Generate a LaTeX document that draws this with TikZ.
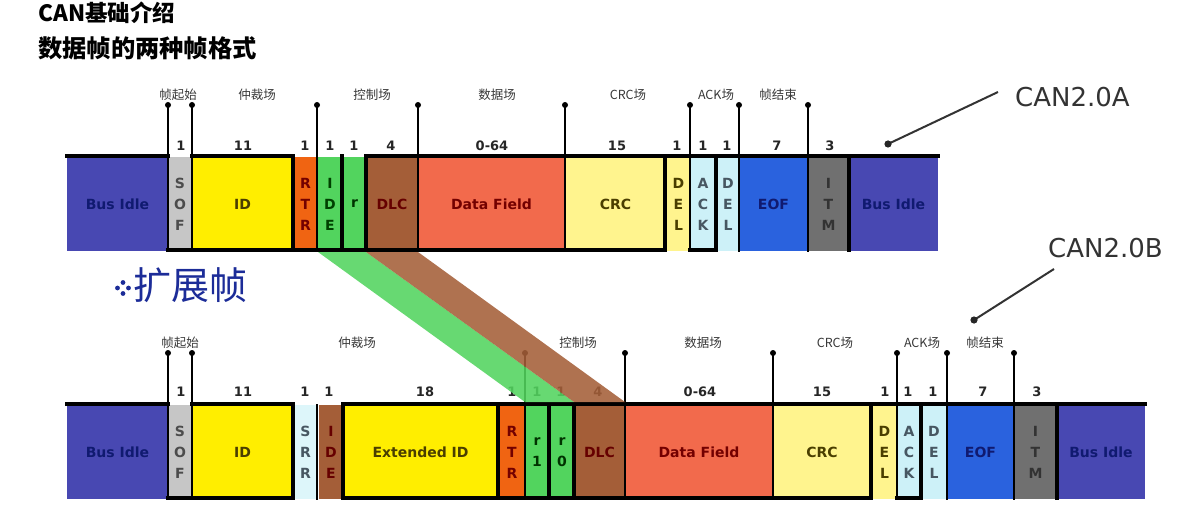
\documentclass[tikz,border=0pt]{standalone}
\usepackage{fontspec}
\newfontfamily\dv{DejaVu Sans}
\newfontfamily\cjk{Noto Sans CJK SC}
\definecolor{busc}{HTML}{4848B2}
\definecolor{sofc}{HTML}{C6C6C6}
\definecolor{idc}{HTML}{FFEE00}
\definecolor{rtrc}{HTML}{F06412}
\definecolor{grc}{HTML}{52D45E}
\definecolor{dlcc}{HTML}{A45E38}
\definecolor{datac}{HTML}{F26A4C}
\definecolor{crcc}{HTML}{FFF48E}
\definecolor{ackc}{HTML}{CDF1F8}
\definecolor{eofc}{HTML}{2A62DE}
\definecolor{itmc}{HTML}{707070}
\definecolor{srrc}{HTML}{DDF6FA}
\definecolor{navy}{HTML}{101A70}
\definecolor{olive}{HTML}{4A3E00}
\definecolor{ttlblue}{HTML}{1C2C98}
\tikzset{
  fbox/.style={draw=none, inner sep=0pt, minimum height=94pt, align=center,
    font=\dv\bfseries\fontsize{14}{20}\selectfont},
  vbox/.style={fbox, font=\dv\bfseries\fontsize{14}{21}\selectfont},
  wave/.style={line width=4pt, line cap=rect, line join=miter},
  tickl/.style={line width=2.6pt},
  midl/.style={line width=1.8pt},
  num/.style={font=\dv\bfseries\fontsize{13}{13}\selectfont, text=black!85, inner sep=0pt},
  cn/.style={font=\cjk\fontsize{12.5}{13}\selectfont, text=black!78, inner sep=0pt},
  canlbl/.style={font=\dv\fontsize{26}{28}\selectfont, text=black!80, inner sep=0pt},
}
% name, x1, x2, ycenter, fill, text colour, style, text
\newcommand\fld[8]{\node[#7, fill=#5, text=#6, minimum width={(#3-#2)*1pt}] (#1) at ({(#2+#3)/2},#4) {#8};}
\newcommand\tk[3]{\draw[tickl] (#1,#2) -- (#1,#3); \fill (#1,#2) circle (3pt);}
\begin{document}
\begin{tikzpicture}[x=1pt,y=-1pt]
\useasboundingbox (0,0) rectangle (1203,532);
% titles
\node[anchor=west, inner sep=0pt, font=\cjk\bfseries\fontsize{22.5}{23}\selectfont] (t1) at (38,13) {CAN基础介绍};
\node[anchor=west, inner sep=0pt, font=\cjk\bfseries\fontsize{24.3}{25}\selectfont] (t2) at (38,48) {数据帧的两种帧格式};
% extended frame title
\foreach \p in {(123,282.5),(117.5,288),(128.5,288),(123,293.5)} \fill[ttlblue] \p circle (2.4pt);
\node[anchor=west, inner sep=0pt, text=ttlblue, font=\cjk\fontsize{38}{39}\selectfont] (ext) at (133,285) {扩展帧};

% ===== top frame (CAN2.0A) =====
\def\yc{204}
\fld{busA}{67}{168}{\yc}{busc}{navy}{fbox}{Bus Idle}
\fld{sofA}{168}{192}{\yc}{sofc}{black!70}{vbox}{S\\O\\F}
\fld{idA}{192}{293}{\yc}{idc}{olive}{fbox}{ID}
\fld{rtrA}{294}{317}{\yc}{rtrc}{red!45!black}{vbox}{R\\T\\R}
\fld{ideA}{318}{342}{\yc}{grc}{green!25!black}{vbox}{I\\D\\E}
\fld{rA}{343}{366}{\yc}{grc}{green!20!black}{fbox}{r}
\fld{dlcA}{366}{418}{\yc}{dlcc}{red!40!black}{fbox}{DLC}
\fld{dataA}{418}{565}{\yc}{datac}{red!45!black}{fbox}{Data Field}
\fld{crcA}{565}{666}{\yc}{crcc}{olive}{fbox}{CRC}
\fld{delA}{667}{690}{\yc}{crcc}{olive}{vbox}{D\\E\\L}
\fld{ackA}{690}{716}{\yc}{ackc}{cyan!30!black}{vbox}{A\\C\\K}
\fld{delbA}{717}{739}{\yc}{ackc}{cyan!30!black}{vbox}{D\\E\\L}
\fld{eofA}{739}{808}{\yc}{eofc}{navy}{fbox}{EOF}
\fld{itmA}{808}{849}{\yc}{itmc}{black!80}{vbox}{I\\T\\M}
\fld{busbA}{849}{938}{\yc}{busc}{navy}{fbox}{Bus Idle}
% waveform
\draw[wave] (67,156) -- (168,156);
\draw[wave] (192,156) -- (293,156) -- (293,250);
\draw[wave] (168,250) -- (366,250);
\draw[wave] (342,156) -- (342,250);
\draw[wave] (366,250) -- (366,156) -- (938,156);
\draw[wave] (366,250) -- (665,250) -- (665,156);
\draw[wave] (690,250) -- (716,250) -- (716,156);
\draw[wave] (849,156) -- (849,250);
\draw[midl] (317,158) -- (317,252);
% ticks
\foreach \x in {168,192,418,565,690,739,808} {\tk{\x}{105}{252}}
\tk{317}{105}{158}
% numbers
\foreach \x/\t in {181/1,243/11,305/1,330/1,354/1,391/4,492/0-64,617/15,677/1,703/1,727/1,777/7,830/3}
  \node[num] at (\x,146) {\t};
% field names
\foreach \x/\t in {178/帧起始,257/仲裁场,372/控制场,497/数据场,628/CRC场,716/ACK场,778/帧结束}
  \node[cn] at (\x,95) {\t};
% label CAN2.0A
\node[canlbl, anchor=west] (canA) at (1015,97) {CAN2.0A};
\coordinate (pA) at (888,144);
\draw[line width=2pt, black!80] (998,92) -- (pA);
\fill[black!85] (pA) circle (3.6pt);

% ===== bottom frame (CAN2.0B) =====
\def\yc{452}
\fld{busB}{67}{168}{\yc}{busc}{navy}{fbox}{Bus Idle}
\fld{sofB}{168}{192}{\yc}{sofc}{black!70}{vbox}{S\\O\\F}
\fld{idB}{192}{293}{\yc}{idc}{olive}{fbox}{ID}
\fld{srrB}{294}{317}{\yc}{srrc}{cyan!30!black}{vbox}{S\\R\\R}
\fld{ideB}{319}{343}{\yc}{dlcc}{red!40!black}{vbox}{I\\D\\E}
\fld{extB}{343}{498}{\yc}{idc}{olive}{fbox}{Extended ID}
\fld{rtrB}{499}{525}{\yc}{rtrc}{red!45!black}{vbox}{R\\T\\R}
\fld{ronB}{525}{549}{\yc}{grc}{green!20!black}{vbox}{r\\1}
\fld{rzB}{550}{574}{\yc}{grc}{green!20!black}{vbox}{r\\0}
\fld{dlcB}{574}{625}{\yc}{dlcc}{red!40!black}{fbox}{DLC}
\fld{dataB}{625}{773}{\yc}{datac}{red!45!black}{fbox}{Data Field}
\fld{crcB}{773}{871}{\yc}{crcc}{olive}{fbox}{CRC}
\fld{delB}{872}{897}{\yc}{crcc}{olive}{vbox}{D\\E\\L}
\fld{ackB}{897}{921}{\yc}{ackc}{cyan!30!black}{vbox}{A\\C\\K}
\fld{delbB}{921}{947}{\yc}{ackc}{cyan!30!black}{vbox}{D\\E\\L}
\fld{eofB}{947}{1014}{\yc}{eofc}{navy}{fbox}{EOF}
\fld{itmB}{1014}{1057}{\yc}{itmc}{black!80}{vbox}{I\\T\\M}
\fld{busbB}{1057}{1145}{\yc}{busc}{navy}{fbox}{Bus Idle}
% waveform
\draw[wave] (67,404) -- (168,404);
\draw[wave] (192,404) -- (293,404) -- (293,498);
\draw[wave] (168,498) -- (293,498);
\draw[wave] (343,498) -- (343,404) -- (1145,404);
\draw[wave] (343,498) -- (871,498) -- (871,404);
\draw[wave] (498,404) -- (498,498);
\draw[wave] (549,404) -- (549,498);
\draw[wave] (574,404) -- (574,498);
\draw[wave] (897,498) -- (921,498) -- (921,404);
\draw[wave] (1057,404) -- (1057,498);
\draw[midl] (317,404) -- (317,500);
% ticks
\foreach \x in {168,192,525,625,773,897,947,1014} {\tk{\x}{353}{500}}
% numbers
\foreach \x/\t in {181/1,243/11,305/1,329/1,425/18,512/1,537/1,561/1,598/4,700/0-64,822/15,885/1,908/1,933/1,983/7,1037/3}
  \node[num] at (\x,392) {\t};
% field names
\foreach \x/\t in {180/帧起始,357/仲裁场,578/控制场,703/数据场,835/CRC场,922/ACK场,985/帧结束}
  \node[cn] at (\x,343) {\t};
% label CAN2.0B
\node[canlbl, anchor=west] (canB) at (1048,248) {CAN2.0B};
\coordinate (pB) at (974,320);
\draw[line width=2pt, black!80] (1054,269) -- (pB);
\fill[black!85] (pB) circle (3.6pt);

% ===== mapping bands =====
\fill[grc, opacity=0.88] (318,252) -- (366,252) -- (574,402) -- (525,402) -- cycle;
\fill[dlcc, opacity=0.88] (366,252) -- (418,252) -- (625,402) -- (574,402) -- cycle;
\end{tikzpicture}
\end{document}
